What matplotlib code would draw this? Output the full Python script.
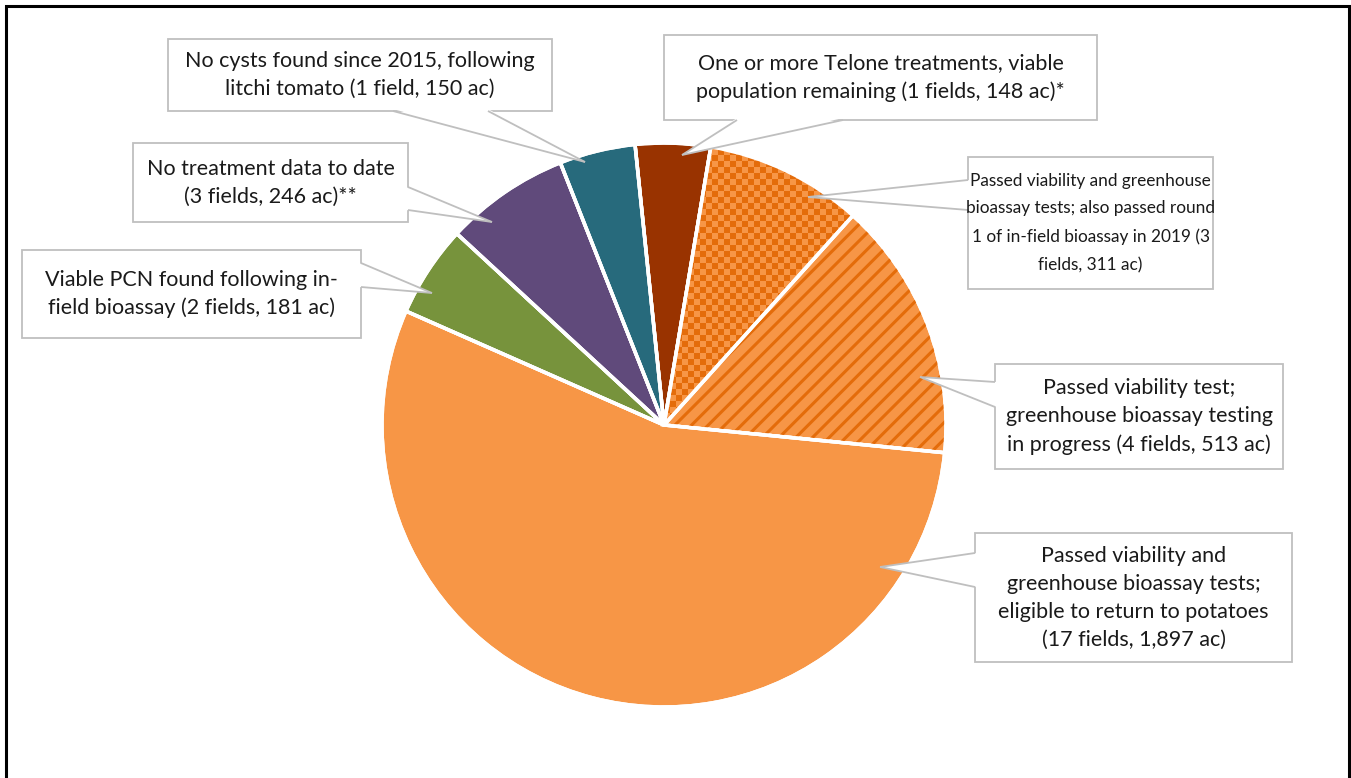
import numpy as np
import matplotlib
matplotlib.use("Agg")
import matplotlib.pyplot as plt
import matplotlib.patches as mpatches
from matplotlib.colors import ListedColormap

# data, in clockwise order starting with the Telone slice
labels = [
    "One or more Telone treatments, viable\npopulation remaining (1 fields, 148 ac)*",
    "Passed viability and greenhouse\nbioassay tests; also passed round\n1 of in-field bioassay in 2019 (3\nfields, 311 ac)",
    "Passed viability test;\ngreenhouse bioassay testing\nin progress (4 fields, 513 ac)",
    "Passed viability and\ngreenhouse bioassay tests;\neligible to return to potatoes\n(17 fields, 1,897 ac)",
    "Viable PCN found following in-\nfield bioassay (2 fields, 181 ac)",
    "No treatment data to date\n(3 fields, 246 ac)**",
    "No cysts found since 2015, following\nlitchi tomato (1 field, 150 ac)",
]
acres = [148, 311, 513, 1897, 181, 246, 150]
colors = ["#993300", "#F79646", "#F79646", "#F79646", "#77933C", "#604A7B", "#276A7C"]
label_sizes = [15.5, 12.4, 15.5, 15.5, 15.5, 15.5, 15.5]

W, H = 1351, 778
dark_orange = "#E46C0A"
light_orange = "#F79646"
plt.rcParams["hatch.linewidth"] = 2.2
plt.rcParams["font.family"] = ["Lato", "DejaVu Sans"]

fig = plt.figure(figsize=(W / 100, H / 100), dpi=100)
ax = fig.add_axes([0, 0, 1, 1])

def P(x, y):
    # pixel position (y down) -> data position (y up)
    return (x, H - y)

cx, cy = P(664, 425)
R = 282
wedges, _ = ax.pie(acres, colors=colors, startangle=95.9, counterclock=False,
                   center=(cx, cy), radius=R,
                   wedgeprops=dict(edgecolor="white", linewidth=2.5))

# checkered slice: texture clipped to the wedge
w = wedges[1]
n = 2 * R
yy, xx = np.indices((n, n))
cells = ((xx // 6 + yy // 6) % 2).astype(float)
im = ax.imshow(cells, cmap=ListedColormap([light_orange, dark_orange]),
               extent=(cx - R, cx + R, cy - R, cy + R), interpolation="nearest",
               zorder=1.5)
im.set_clip_path(w)

# striped slice
w = wedges[2]
ax.add_patch(mpatches.Wedge(w.center, w.r, w.theta1, w.theta2, facecolor="none",
                            edgecolor=dark_orange, hatch="//", lw=0, zorder=1.5))

# white outlines on top
for w in wedges:
    ax.add_patch(mpatches.Wedge(w.center, w.r, w.theta1, w.theta2, facecolor="none",
                                edgecolor="white", lw=2.5, zorder=2))

# callout boxes: (x0, y0, x1, y1), pointer base points, tip  (pixel coords)
boxes = [
    ((664, 35, 1097, 120), (737, 120), (843, 120), (682, 155)),
    ((968, 157, 1213, 289), (968, 180), (968, 210), (808, 197)),
    ((995, 364, 1283, 469), (995, 382), (995, 407), (920, 377)),
    ((975, 533, 1292, 662), (975, 553), (975, 587), (880, 567)),
    ((22, 250, 361, 338), (361, 263), (361, 287), (432, 293)),
    ((133, 143, 408, 222), (408, 187), (408, 210), (492, 222)),
    ((168, 39, 552, 111), (393, 111), (488, 111), (585, 162)),
]
gray = "#BFBFBF"
for lab, fs, (rect, b1, b2, tip) in zip(labels, label_sizes, boxes):
    x0, y0, x1, y1 = rect
    ax.add_patch(mpatches.Rectangle(P(x0, y1), x1 - x0, y1 - y0, facecolor="white",
                                    edgecolor=gray, lw=1.3, zorder=3))
    # pointer, filled white, base pushed slightly into the box
    inner = []
    for b in (b1, b2):
        bx, by = b
        if bx == x0:
            bx += 2
        elif bx == x1:
            bx -= 2
        elif by == y0:
            by += 2
        else:
            by -= 2
        inner.append(P(bx, by))
    ax.add_patch(mpatches.Polygon([inner[0], inner[1], P(*tip)], closed=True,
                                  facecolor="white", edgecolor="none", zorder=3.1))
    for b in (b1, b2):
        ax.plot([b[0], tip[0]], [H - b[1], H - tip[1]], color=gray, lw=1.3,
                zorder=3.2, solid_capstyle="butt")
    tx, ty = P((x0 + x1) / 2, (y0 + y1) / 2)
    ax.text(tx, ty, lab, ha="center", va="center", multialignment="center",
            fontsize=fs, color="#1a1a1a", linespacing=1.5 if fs > 14 else 1.9,
            zorder=4)

# chart border
ax.add_patch(mpatches.Rectangle(P(6, 820), 1343, 814, facecolor="none",
                                edgecolor="black", lw=2.2, zorder=5, clip_on=False))

ax.set_xlim(0, W)
ax.set_ylim(0, H)
ax.set_aspect("auto")
ax.axis("off")
fig.savefig("out.png", dpi=100)
